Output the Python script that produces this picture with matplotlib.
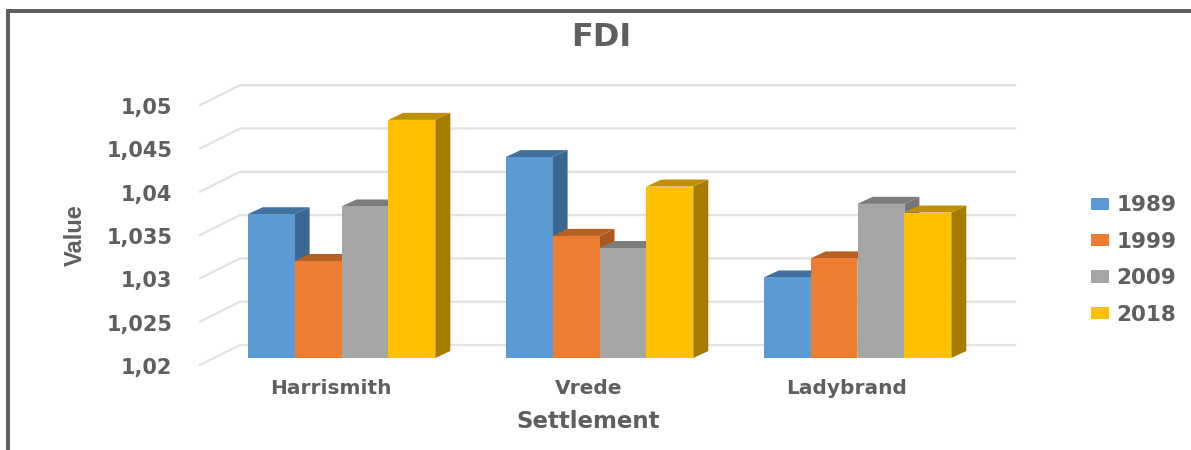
import numpy as np
import matplotlib
matplotlib.use('Agg')
import matplotlib.pyplot as plt
from matplotlib.patches import Rectangle, Polygon
from matplotlib.transforms import ScaledTranslation

settlements = ['Harrismith', 'Vrede', 'Ladybrand']
years = ['1989', '1999', '2009', '2018']
v1989 = [1.0366, 1.0432, 1.0293]
v1999 = [1.0312, 1.0341, 1.0315]
v2009 = [1.0375, 1.0327, 1.0378]
v2018 = [1.0475, 1.0398, 1.0368]
series = [v1989, v1999, v2009, v2018]
ticks = [1.02, 1.025, 1.03, 1.035, 1.04, 1.045, 1.05]
tick_labels = ['1,02', '1,025', '1,03', '1,035', '1,04', '1,045', '1,05']

front = ['#5B9BD5', '#ED7D31', '#A5A5A5', '#FFC000']
side = ['#3A6890', '#A9581F', '#767676', '#A67C00']
top = ['#41719C', '#B85F22', '#7C7C7C', '#BF9000']
text_col = '#5F5F5F'

W, H = 1191, 450
fig = plt.figure(figsize=(W / 100, H / 100), dpi=100, facecolor='white')

# axes is the front plane of the fake 3d box
ax = fig.add_axes([200 / W, (H - 358) / H, 815 / W, 298 / H])
px_x = 1 / 258  # one pixel in x data units
px_y = 0.005 / 43.3  # one pixel in y data units
ax.set_xlim(-141.5 * px_x, 673.5 * px_x)
ax.set_ylim(1.02, 1.02 + 298 * px_y)
for s in ax.spines.values():
    s.set_visible(False)

# walls: gridlines on the back and the diagonal on the side
wall_x = 40 * px_x
for t in ticks:
    x0 = ax.get_xlim()[0]
    y_front = t - 7 * px_y
    y_back = t + 13 * px_y
    ax.plot([x0, x0 + wall_x, ax.get_xlim()[1]], [y_front, y_back, y_back],
            color='#E2E2E2', lw=1.6, zorder=1, clip_on=False)

# bars, with side and top faces drawn from the depth offset
bar_w = 46.9 * px_x
dx = 15 * px_x
dy = 7 * px_y
z = 2
for g in range(len(settlements)):
    for i, vals in enumerate(series):
        left = g + (i - 2) * bar_w
        v = vals[g]
        right = left + bar_w
        ax.add_patch(Polygon([(right, 1.02), (right + dx, 1.02 + dy), (right + dx, v + dy), (right, v)],
                             facecolor=side[i], edgecolor='none', zorder=z))
        ax.add_patch(Polygon([(left, v), (left + dx, v + dy), (right + dx, v + dy), (right, v)],
                             facecolor=top[i], edgecolor='none', zorder=z))
        ax.bar(left, v - 1.02, bottom=1.02, width=bar_w, align='edge', color=front[i],
               label=years[i] if g == 0 else None, zorder=z + 1)
        z += 2

ax.set_yticks(ticks)
ax.set_yticklabels(tick_labels, fontsize=15, fontweight='bold', color=text_col)
ax.tick_params(axis='y', length=0, pad=20)
for lab in ax.get_yticklabels():
    lab.set_transform(lab.get_transform() + ScaledTranslation(0, -8 / 100, fig.dpi_scale_trans))

ax.set_xticks(range(len(settlements)))
ax.set_xticklabels(settlements, fontsize=14.5, fontweight='bold', color=text_col)
ax.tick_params(axis='x', length=0, pad=15)
for lab in ax.get_xticklabels():
    lab.set_transform(lab.get_transform() + ScaledTranslation(-11 / 100, 0, fig.dpi_scale_trans))

fig.text(601 / W, 1 - 38 / H, 'FDI', fontsize=23, fontweight='bold', color=text_col, ha='center', va='center')
fig.text(75 / W, 1 - 235 / H, 'Value', fontsize=17, fontweight='bold', family='Liberation Sans',
         color=text_col, rotation=90, ha='center', va='center')
fig.text(588 / W, 1 - 421 / H, 'Settlement', fontsize=16.5, fontweight='bold', color=text_col,
         ha='center', va='center')

leg = ax.legend(loc='center left', bbox_to_anchor=(1091 / W, 1 - 260 / H), bbox_transform=fig.transFigure,
                frameon=False, prop={'size': 15.5, 'weight': 'bold'}, handlelength=0.84, handleheight=0.5,
                handletextpad=0.33, labelspacing=0.76, borderpad=0, borderaxespad=0)
for t in leg.get_texts():
    t.set_color(text_col)

# dark frame around the picture, only left and top are visible
fig.add_artist(Rectangle((6 / W, 0), 4 / W, 1 - 9 / H, transform=fig.transFigure, color='#5F5F5F', lw=0))
fig.add_artist(Rectangle((6 / W, 1 - 13 / H), 1 - 6 / W, 4 / H, transform=fig.transFigure, color='#5F5F5F', lw=0))

fig.savefig('out.png', dpi=100)
